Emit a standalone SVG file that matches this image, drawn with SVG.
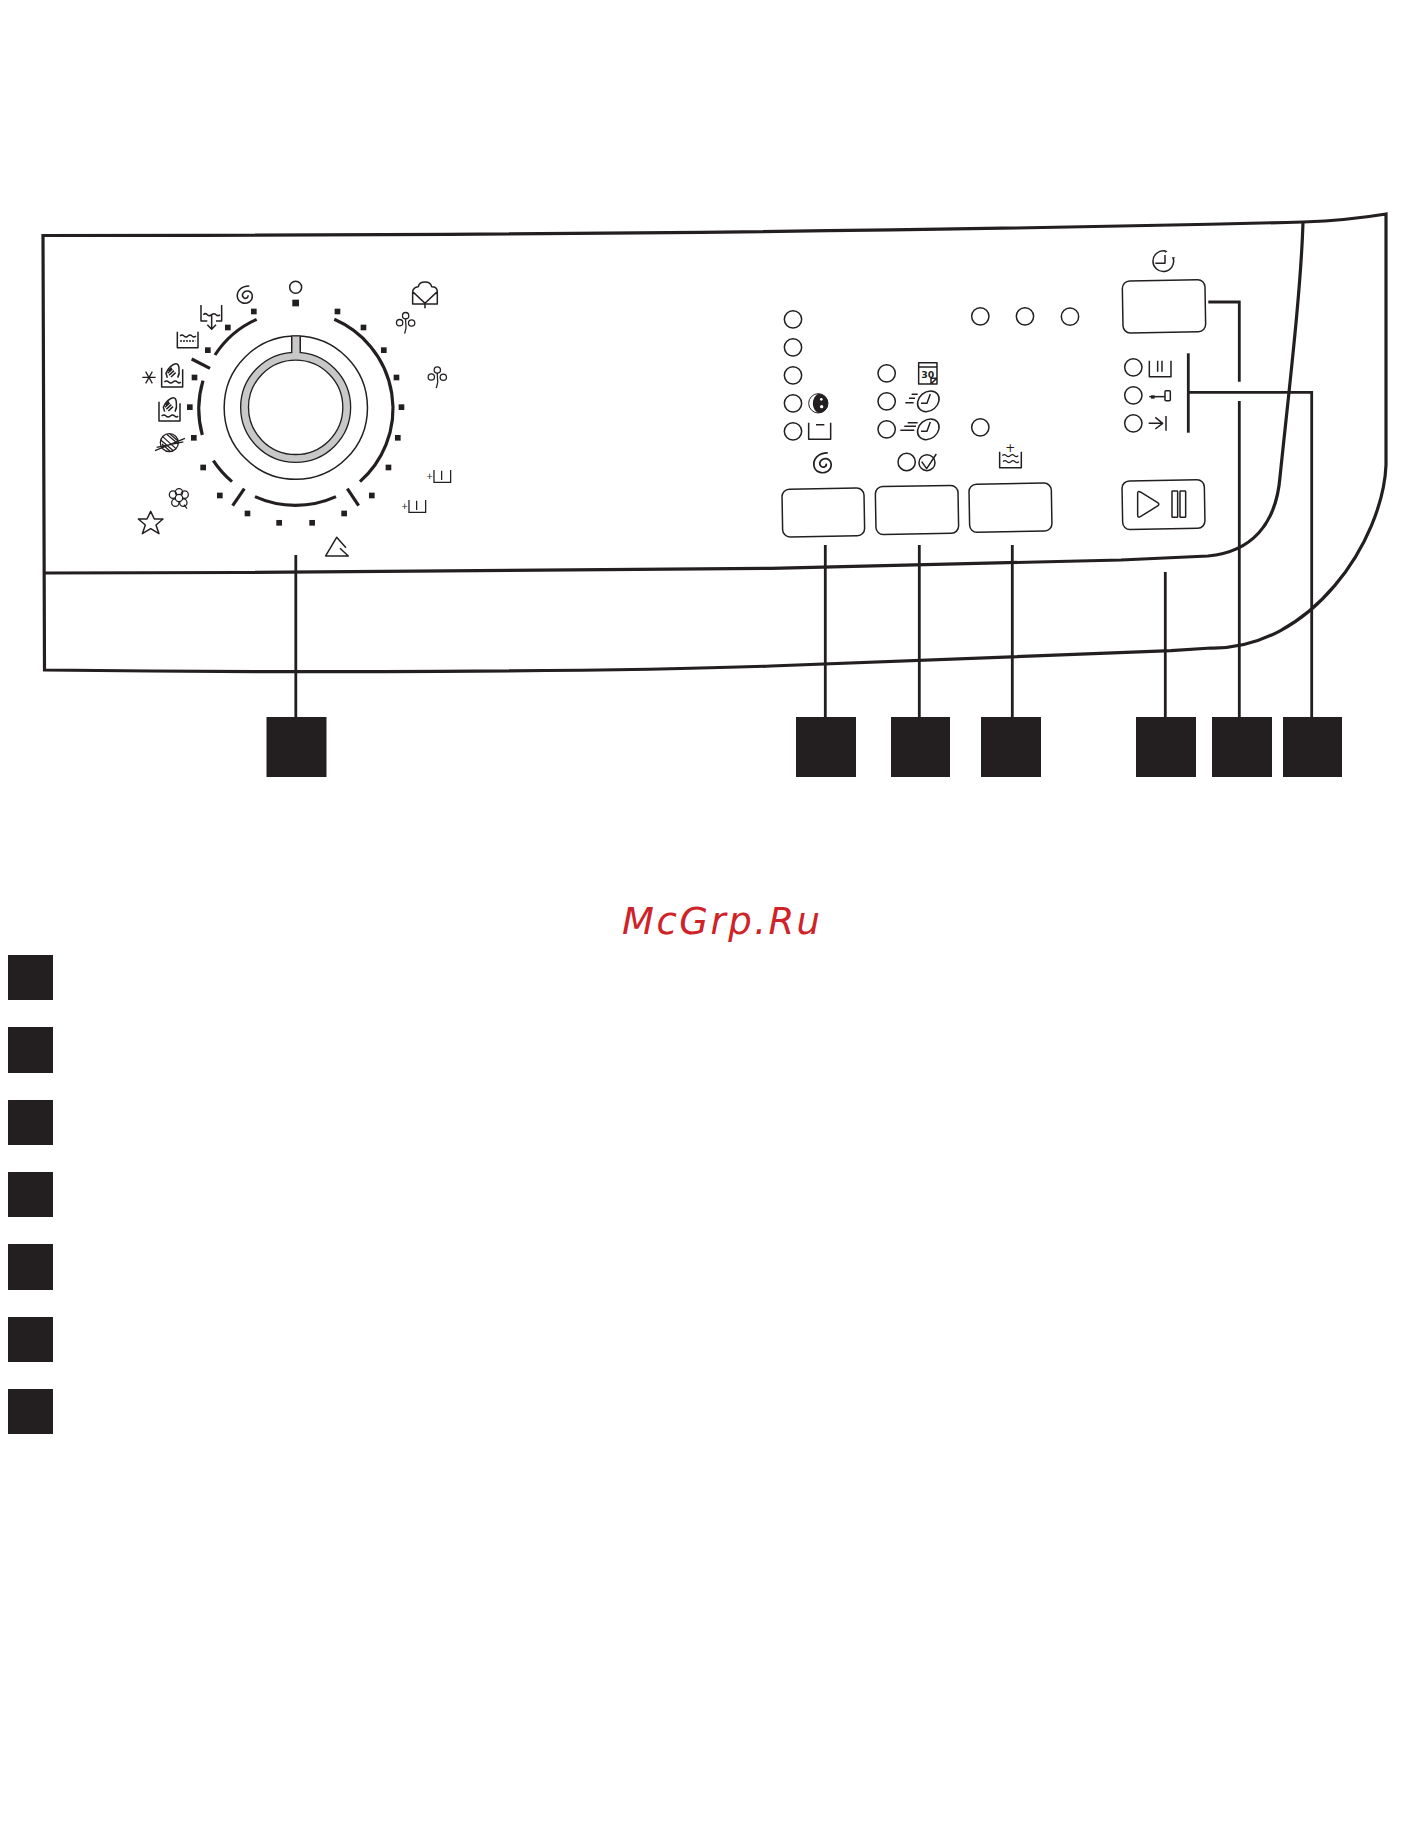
<svg xmlns="http://www.w3.org/2000/svg" width="1428" height="1839" viewBox="0 0 1428 1839">
<style>
.bg{fill:#fff}
.panel{fill:none;stroke:#231f20;stroke-width:3.2}
.conn{fill:none;stroke:#231f20;stroke-width:2.8}
.sq{fill:#231f20}
.btn{fill:#fff;stroke:#231f20;stroke-width:4.5}
.i{fill:none;stroke:#231f20;stroke-width:4.5;stroke-linejoin:round}
.t{fill:none;stroke:#231f20;stroke-width:3.8}
.arc{fill:none;stroke:#231f20;stroke-width:9.500}
.dark{fill:#231f20}
.sym{font-family:"DejaVu Sans",sans-serif;fill:#231f20}
</style>
<defs>
<path id="spiral" d="M388 78C362 78 350 95 352 111C355 129 375 134 388 126C401 116 400 98 385 93C371 91 362 105 371 113C377 118 386 113 384 106"/>
<g id="trio"><circle cx="0" cy="-18" r="9.500"/><circle cx="-18" cy="3" r="9.500"/><circle cx="18" cy="4" r="9.500"/><path d="M0 -9C-1 2 2 10 1 20L-3 36"/></g>
<g id="plustub"><path d="M0 0V37H50V0M23 2V30"/><text class="sym" x="-24" y="26" font-size="26" stroke="none">+</text></g>
<g id="handtub"><path d="M0 0V58H63V5"/><path d="M17 30L13 17C18 2 34 -12 43 -12C50 -12 52 -2 52 5C54 14 52 22 48 30"/><path d="M18 17L32 4M22 23L37 9M28 28L42 15M20 10L30 0"/><path d="M8 43Q15 37 21 43T34 43T47 43T57 43"/></g>
<path id="wave" d="M0 4Q6 -2 12 4T24 4T36 4T48 4"/>
</defs>
<rect class="bg" width="1428" height="1839"/>

<g id="panel" transform="translate(1 0)">
<path class="panel" d="M42 235.500L43.500 670C300 673 600 672 770 666L1170 650.700L1210 648C1310 650 1382 540 1385 465V214C1355 219 1330 221 1302 222C900 232 500 235.500 42 235.500Z"/>
<path class="panel" d="M43 573C300 572.500 600 571.500 770 568.300L1120 560L1207 556C1250 552 1275 525 1279 477C1288 390 1300 290 1302 222"/>
</g>

<g id="connectors" transform="translate(1 0)">
<path class="conn" d="M294.800 555V717"/>
<path class="conn" d="M824.300 545V717"/>
<path class="conn" d="M918.300 545V717"/>
<path class="conn" d="M1011.300 545V717"/>
<path class="conn" d="M1164.300 572V717"/>
<path class="conn" d="M1207.300 302H1238.300V381.700"/>
<path class="conn" d="M1238.300 401V717"/>
<path class="conn" d="M1187.300 353.300V432.700"/>
<path class="conn" d="M1187.300 392.300H1310.700V717"/>
</g>

<g id="dial" transform="translate(120 260) scale(.3333)">
<circle cx="527.500" cy="443" r="215" fill="#fff" stroke="#231f20" stroke-width="4.500"/>
<path d="M515 228H541V279H515Z" fill="#c8c8c8" stroke="#231f20" stroke-width="3.500"/>
<circle cx="527" cy="442" r="153" fill="none" stroke="#c8c8c8" stroke-width="24"/>
<circle cx="527" cy="442" r="165" fill="none" stroke="#231f20" stroke-width="4"/>
<circle cx="527" cy="442" r="141.500" fill="#fff" stroke="#231f20" stroke-width="4"/>
<rect x="517" y="270" width="22" height="20" fill="#c8c8c8"/>
<path d="M515 230V278M541 230V278" stroke="#231f20" stroke-width="4" fill="none"/>
<g>
<path class="arc" d="M643 178A292 292 0 0 1 720 665"/>
<path class="arc" d="M285 285A290 290 0 0 1 410 178"/>
<path class="arc" d="M215 297L270 325"/>
<path class="arc" d="M249 362A295 295 0 0 0 247 525"/>
<path class="arc" d="M280 602A295 295 0 0 0 336 665"/>
<path class="arc" d="M373 686L338 737"/>
<path class="arc" d="M405 710A295 295 0 0 0 648 710"/>
<path class="arc" d="M682 686L716 737"/>
</g>
<g class="dark">
<rect x="517" y="119" width="20" height="20"/>
<rect x="393" y="146" width="17" height="17"/><rect x="315" y="194" width="17" height="17"/><rect x="255" y="262" width="17" height="17"/><rect x="215" y="344" width="17" height="17"/><rect x="201" y="433" width="17" height="17"/><rect x="213" y="525" width="17" height="17"/><rect x="241" y="614" width="17" height="17"/><rect x="291" y="698" width="17" height="17"/><rect x="374" y="752" width="17" height="17"/><rect x="469" y="780" width="17" height="17"/><rect x="568" y="780" width="17" height="17"/><rect x="664" y="752" width="17" height="17"/><rect x="747" y="698" width="17" height="17"/><rect x="797" y="614" width="17" height="17"/><rect x="825" y="525" width="17" height="17"/><rect x="836" y="433" width="17" height="17"/><rect x="821" y="344" width="17" height="17"/><rect x="783" y="262" width="17" height="17"/><rect x="722" y="194" width="17" height="17"/><rect x="644" y="146" width="17" height="17"/>
</g>
</g>

<g id="dial-icons" transform="translate(120 260) scale(.3333)">
<circle class="i" cx="527" cy="82" r="18"/>
<use href="#spiral" class="i"/>
<path class="i" d="M243 135V183H262M305 135V183H288M250 164Q256 158 262 164T275 164T288 164T300 164M275 166V206M262 194L275 208L288 194"/>
<path class="i" d="M172 215V263H234V215"/>
<use href="#wave" class="t" x="180" y="224"/>
<path class="t" d="M180 243H226" stroke-dasharray="6 3"/>
<use href="#handtub" x="125" y="323" class="i"/>
<path class="t" d="M67 352H107M77 335L97 370M97 335L77 370"/>
<use href="#handtub" x="117" y="425" class="i"/>
<g class="t"><circle cx="148" cy="548" r="27"/><path d="M105 572L195 535M110 562L190 546M128 530L168 566M122 540L160 572M140 523L175 552M126 552L150 574M150 522L174 543"/></g>
<g class="t"><circle cx="177" cy="697" r="11"/><circle cx="194" cy="704" r="11"/><circle cx="190" cy="728" r="11"/><circle cx="166" cy="728" r="11"/><circle cx="159" cy="704" r="11"/><circle cx="177" cy="714" r="11" fill="#fff"/><path d="M192 734L201 746"/></g>
<polygon class="i" points="92,754 103,777 129,777 108,795 117,821 92,806 67,821 76,795 55,777 81,777"/>
<path class="i" d="M678 863L650 832L617 888H685L660 865"/>
<path class="i" d="M878 95V132H952V95L915 130L878 95C878 85 890 80 895 80C897 70 905 66 915 66C925 66 933 70 935 80C945 80 952 85 952 95M915 130V145"/>
<use href="#trio" x="857" y="185" class="t"/>
<use href="#trio" x="952" y="348" class="t"/>
<use href="#plustub" x="942" y="630" class="t"/>
<use href="#plustub" x="867" y="720" class="t"/>
</g>

<g id="button-1" transform="translate(761 250) scale(.3333)">
<rect class="btn" x="64" y="716" width="246" height="143" rx="22" transform="rotate(-1 187 788)"/>
<g class="i"><circle cx="96" cy="208" r="26"/><circle cx="96" cy="292" r="26"/><circle cx="96" cy="376" r="26"/><circle cx="96" cy="460" r="26"/><circle cx="96" cy="544" r="26"/></g>
<circle cx="172" cy="460" r="29" fill="#fff" stroke="#231f20" stroke-width="3"/>
<path class="dark" d="M172 431A29 29 0 1 1 172 489C150 478 150 442 172 431Z"/>
<circle cx="181" cy="448" r="4" fill="#fff"/><circle cx="182" cy="470" r="5" fill="#fff"/>
<path class="i" d="M143 518V568H209V518M165 524H190"/>
<use href="#spiral" class="i" transform="translate(-246 519) scale(1.150)"/>
</g>

<g id="button-2" transform="translate(761 250) scale(.3333)">
<rect class="btn" x="344" y="708" width="248" height="144" rx="22" transform="rotate(-1 468 780)"/>
<g class="i"><circle cx="377" cy="370" r="26"/><circle cx="377" cy="454" r="26"/><circle cx="377" cy="538" r="26"/><circle cx="437" cy="636" r="26"/></g>
<path class="i" d="M473 338H528V402H473ZM473 351H528M510 402V385H528M512 400L526 386"/>
<text class="sym" x="481" y="383" font-size="28" font-weight="bold">30</text>
<g class="i"><ellipse cx="502" cy="454" rx="35" ry="28" transform="rotate(-40 502 454)"/><path d="M508 432L498 460H480M452 433H470M444 445H462M433 458H458"/></g>
<g class="i"><ellipse cx="502" cy="538" rx="35" ry="28" transform="rotate(-40 502 538)"/><path d="M508 516L498 544H480M440 518H470M430 529H465M418 541H460"/></g>
<circle class="i" cx="498" cy="638" r="24"/>
<path class="i" d="M482 635L497 656L526 612"/>
</g>

<g id="button-3" transform="translate(761 250) scale(.3333)">
<rect class="btn" x="625" y="701" width="247" height="144" rx="22" transform="rotate(-1 748 773)"/>
<g class="i"><circle cx="658" cy="199" r="26"/><circle cx="792" cy="199" r="26"/><circle cx="658" cy="532" r="26"/></g>
<path class="i" d="M716 605V653H781V605"/>
<use href="#wave" class="t" x="724" y="613"/>
<use href="#wave" class="t" x="726" y="631"/>
<text class="sym" x="748" y="606" font-size="36" text-anchor="middle">+</text>
</g>

<g id="button-4" transform="translate(1061 200) scale(.3333)">
<circle class="i" cx="27" cy="350" r="26"/>
<rect class="btn" x="185" y="241" width="248" height="156" rx="22" transform="rotate(-1 309 319)"/>
<path class="i" d="M312 153A31 31 0 1 0 337 176M312 165V190H283"/>
<path class="dark" d="M310 150L320 154L312 158ZM332 172H342L337 180Z"/>
<g class="i"><circle cx="217" cy="502" r="26"/><circle cx="217" cy="586" r="26"/><circle cx="217" cy="670" r="26"/></g>
<path class="i" d="M265 482V530H330V482M290 482V515M303 482V515"/>
<path class="i" d="M265 590H312"/>
<rect class="dark" x="270" y="586" width="11" height="10"/>
<rect class="i" x="312" y="572" width="16" height="30" rx="3"/>
<path class="i" d="M263 670H303M283 652L305 670L283 687M315 648V692"/>
</g>

<g id="button-5" transform="translate(1061 200) scale(.3333)">
<rect class="btn" x="184" y="841" width="247" height="146" rx="22" transform="rotate(-1 307 914)"/>
<path class="i" d="M230 880Q230 872 238 876L290 908Q297 913 290 918L238 950Q230 954 230 946Z"/>
<rect class="i" x="333" y="873" width="17" height="79" rx="2"/>
<rect class="i" x="357" y="873" width="17" height="79" rx="2"/>
</g>

<g id="callouts-bottom" transform="translate(1 0)">
<rect id="callout-1" class="sq" x="265.500" y="717" width="60" height="60"/>
<rect id="callout-2" class="sq" x="795" y="717" width="60" height="60"/>
<rect id="callout-3" class="sq" x="890" y="717" width="59" height="60"/>
<rect id="callout-4" class="sq" x="980" y="717" width="60" height="60"/>
<rect id="callout-5" class="sq" x="1135" y="717" width="60" height="60"/>
<rect id="callout-6" class="sq" x="1211" y="717" width="60" height="60"/>
<rect id="callout-7" class="sq" x="1282" y="717" width="59" height="60"/>
</g>

<text id="watermark" x="622" y="933.500" font-family="'DejaVu Sans',sans-serif" font-style="italic" font-size="37" letter-spacing="2.500" fill="#cf2229">McGrp.Ru</text>

<g id="legend">
<rect id="legend-1" class="sq" x="8" y="955" width="45" height="45"/>
<rect id="legend-2" class="sq" x="8" y="1027" width="45" height="46"/>
<rect id="legend-3" class="sq" x="8" y="1100" width="45" height="45"/>
<rect id="legend-4" class="sq" x="8" y="1172" width="45" height="45"/>
<rect id="legend-5" class="sq" x="8" y="1244" width="45" height="46"/>
<rect id="legend-6" class="sq" x="8" y="1317" width="45" height="45"/>
<rect id="legend-7" class="sq" x="8" y="1389" width="45" height="45"/>
</g>
</svg>
